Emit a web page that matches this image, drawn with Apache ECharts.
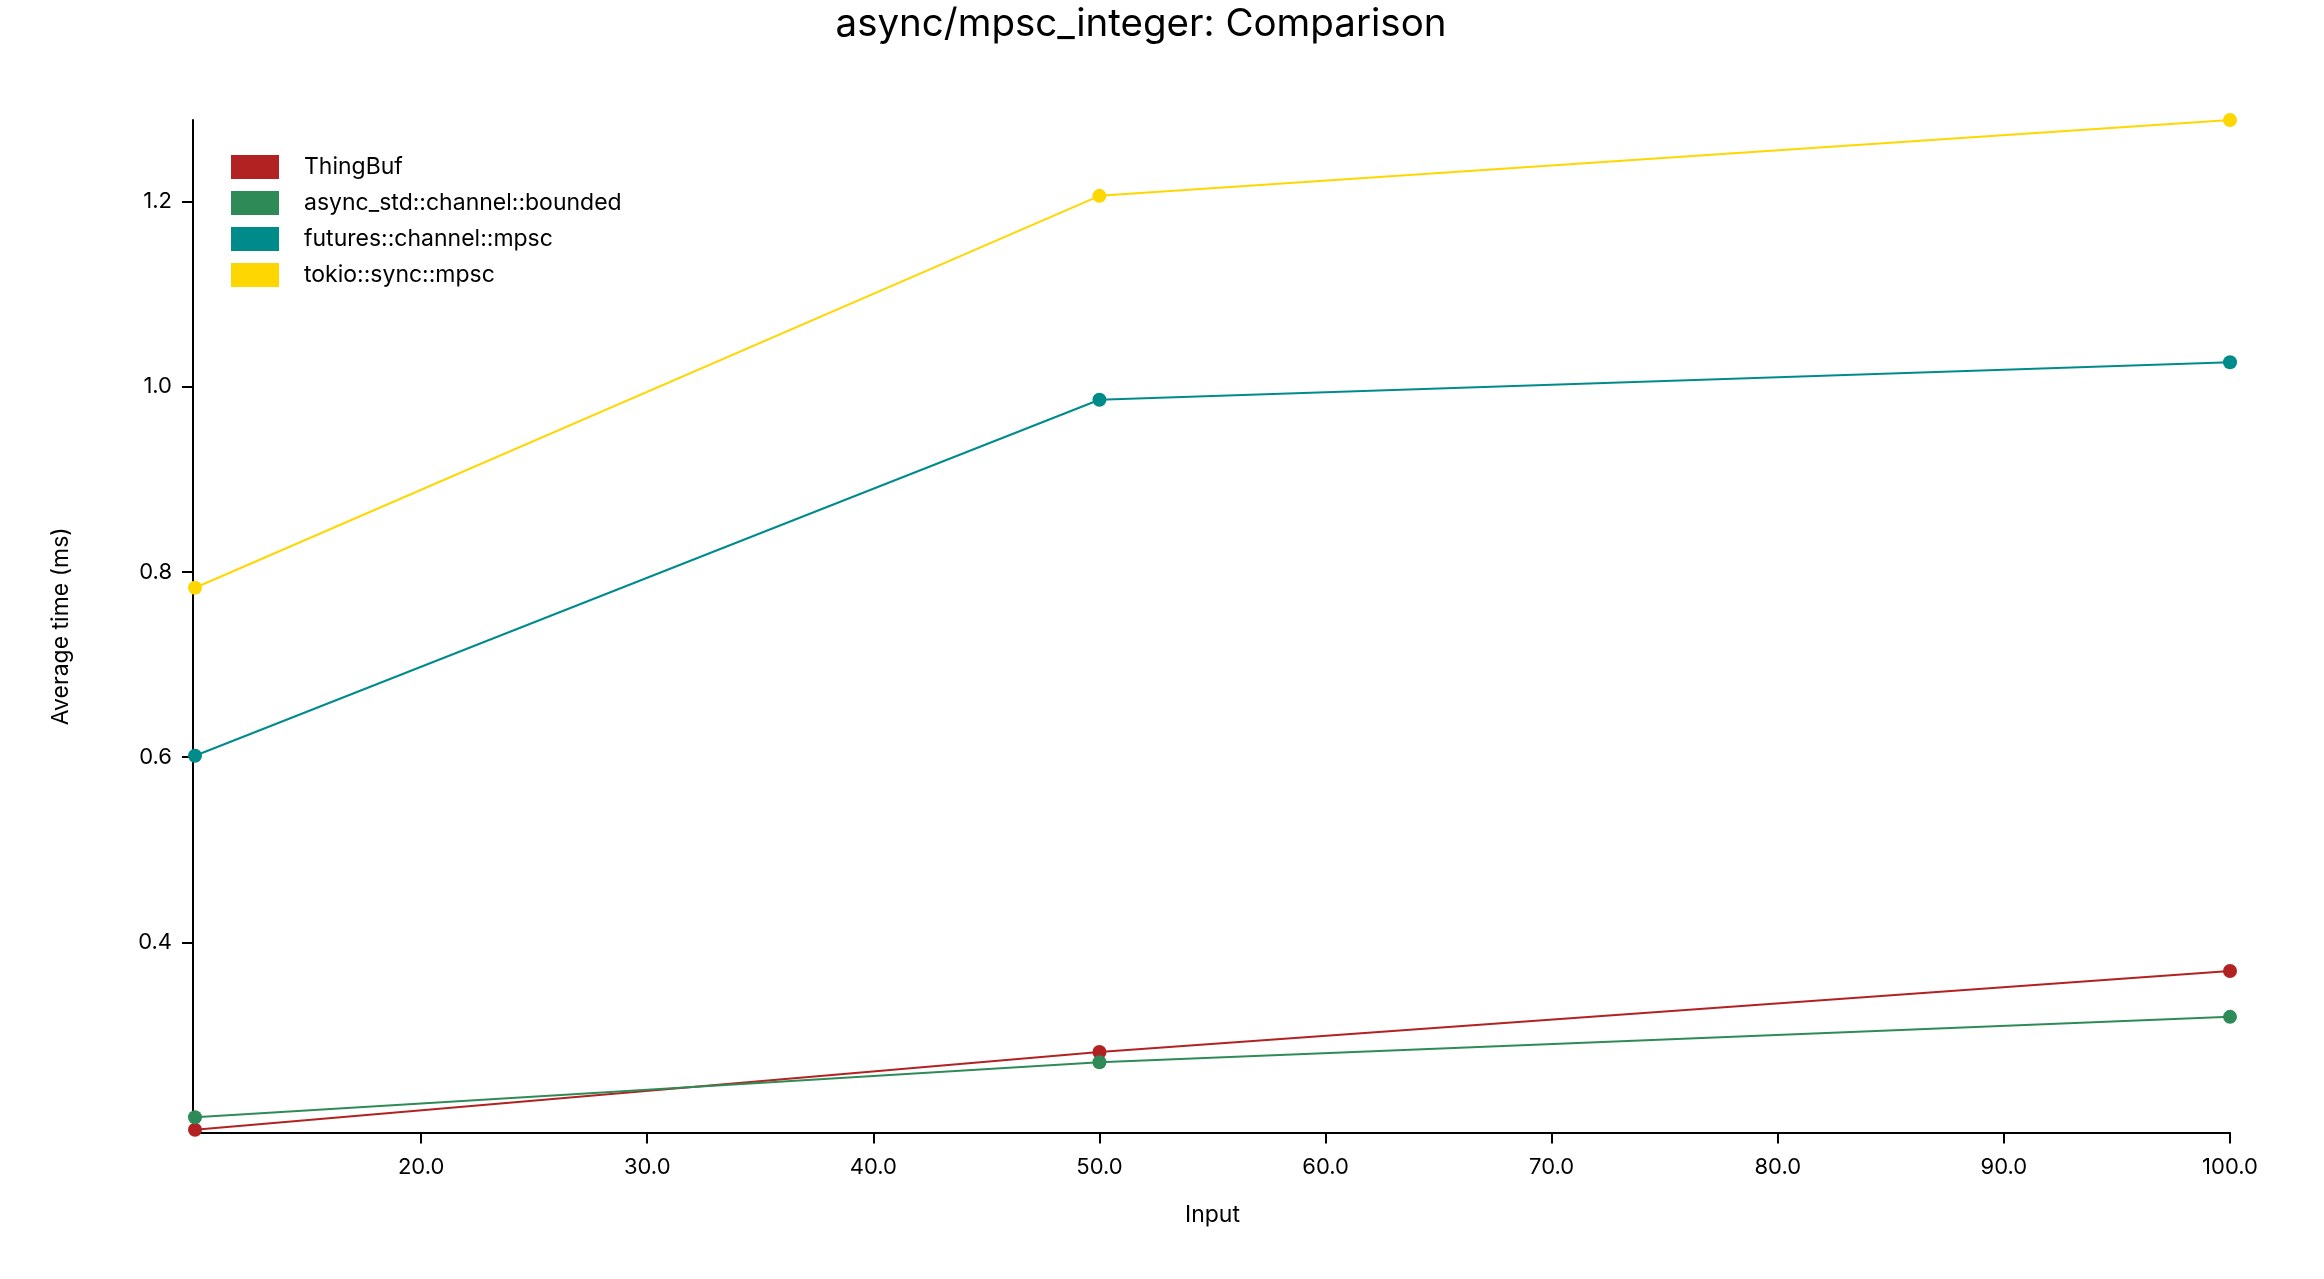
<!DOCTYPE html>
<html>
<head>
<meta charset="utf-8">
<script src="https://cdn.jsdelivr.net/npm/echarts@6/dist/echarts.min.js"></script>
<style>
html,body{margin:0;padding:0;background:#fff;}
#main{width:2324px;height:1279px;}
</style>
</head>
<body>
<div id="main"></div>
<script>
const inputs = [10, 50, 100];
const seriesNames = ['ThingBuf', 'async_std::channel::bounded', 'futures::channel::mpsc', 'tokio::sync::mpsc'];
const thingBuf = [0.1975, 0.2815, 0.3690];
const asyncStd = [0.2110, 0.2705, 0.3195];
const futuresMpsc = [0.6015, 0.9860, 1.0266];
const tokioMpsc = [0.7830, 1.2063, 1.2882];
const xTicks = [20, 30, 40, 50, 60, 70, 80, 90, 100];
const yTicks = [0.4, 0.6, 0.8, 1.0, 1.2];
const colors = ['#B22222', '#2E8B57', '#008B8B', '#FFD700'];

const allValues = [thingBuf, asyncStd, futuresMpsc, tokioMpsc];
const FONT = 'Inter';

const chart = echarts.init(document.getElementById('main'), null, {renderer: 'canvas'});
chart.setOption({
  backgroundColor: '#ffffff',
  animation: false,
  color: colors,
  textStyle: {fontFamily: FONT},
  title: {
    text: 'async/mpsc_integer: Comparison',
    left: 1136,
    top: 0,
    textAlign: 'center',
    textStyle: {fontFamily: FONT, fontSize: 38.5, fontWeight: 'normal', color: '#000'}
  },
  legend: {
    orient: 'vertical',
    left: 231,
    top: 155,
    itemWidth: 48,
    itemHeight: 24,
    itemGap: 12,
    icon: 'rect',
    padding: 0,
    textStyle: {fontFamily: FONT, fontSize: 23, color: '#000', padding: [0, 0, 0, 20]},
    data: seriesNames
  },
  grid: {left: 195, right: 94, top: 120, bottom: 146.5, containLabel: false},
  xAxis: {
    type: 'value',
    min: 10,
    max: 100,
    name: 'Input',
    nameLocation: 'middle',
    nameGap: 71,
    nameTextStyle: {fontFamily: FONT, fontSize: 23, color: '#000'},
    splitLine: {show: false},
    axisLine: {show: true, onZero: false, lineStyle: {color: '#000', width: 2}},
    axisTick: {show: true, length: 11, lineStyle: {color: '#000', width: 2}, customValues: xTicks},
    axisLabel: {
      fontFamily: FONT, fontSize: 22, color: '#000', margin: 24,
      customValues: xTicks,
      formatter: v => v.toFixed(1)
    }
  },
  yAxis: {
    type: 'value',
    min: 0.1946,
    max: 1.2882,
    offset: 2,
    name: 'Average time (ms)',
    nameLocation: 'middle',
    nameGap: 120,
    nameRotate: 90,
    nameTextStyle: {fontFamily: FONT, fontSize: 23, color: '#000'},
    splitLine: {show: false},
    axisLine: {show: true, onZero: false, lineStyle: {color: '#000', width: 2}},
    axisTick: {show: true, length: 11, lineStyle: {color: '#000', width: 2}, customValues: yTicks},
    axisLabel: {
      fontFamily: FONT, fontSize: 22, color: '#000', margin: 21,
      customValues: yTicks,
      formatter: v => v.toFixed(1)
    }
  },
  series: seriesNames.map((name, i) => ({
    name: name,
    type: 'line',
    data: inputs.map((x, j) => [x, allValues[i][j]]),
    symbol: 'circle',
    symbolSize: 14,
    showSymbol: true,
    lineStyle: {width: 2, color: colors[i]},
    itemStyle: {color: colors[i]},
    clip: false,
    z: 2 + i
  }))
});
</script>
</body>
</html>
